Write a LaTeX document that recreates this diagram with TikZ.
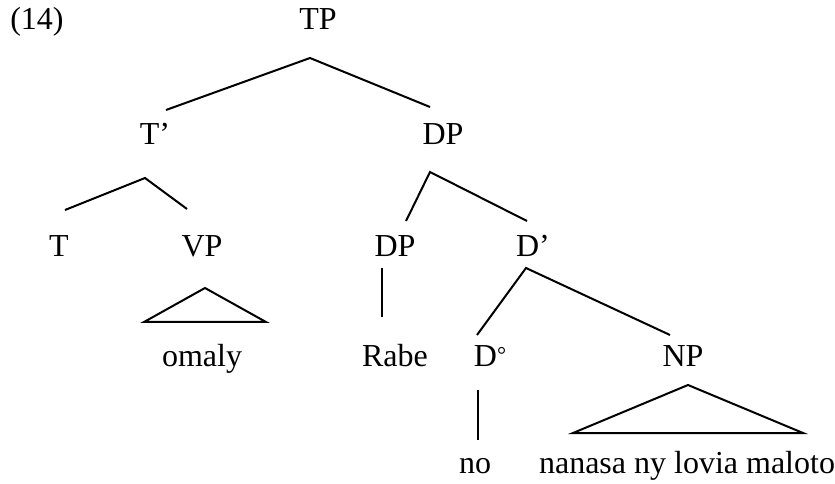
\documentclass[tikz,border=0pt]{standalone}
\usepackage{fontspec}
\setmainfont{Liberation Serif}
\usepackage{tikz}

\tikzset
  {
    lbl/.style=    {anchor=base, inner sep=0pt, font=\fontsize{24}{28}\selectfont},
    branch/.style= {black, line width=1.5pt, line join=miter}
  }

\begin{document}
\begin{tikzpicture}[x=0.75pt, y=-0.75pt]

\useasboundingbox (0,0) rectangle (835,484);

% labels
\node[lbl] (ex) at (37,30) {(14)};
\node[lbl] (TP) at (318,30) {TP};

\node[lbl] (Tbar) at (155,145) {T’};
\node[lbl] (DPa) at (443,145) {DP};

\node[lbl] (T) at (59,257) {T};
\node[lbl] (VP) at (202,257) {VP};
\node[lbl] (DPb) at (395,257) {DP};
\node[lbl] (Dbar) at (533,257) {D’};

\node[lbl] (omaly) at (202,367) {omaly};
\node[lbl] (Rabe) at (395,367) {Rabe};
\node[lbl] (Dzero) at (490,367) {D\raisebox{3pt}{\fontsize{17}{17}\selectfont°}};
\node[lbl] (NP) at (683,367) {NP};

\node[lbl] (no) at (475,473) {no};
\node[lbl] (nanasa) at (687,473) {nanasa ny lovia maloto};


% branches
\draw[branch] ([shift={(11,-35)}]Tbar.base)--([shift={(-8,28)}]TP.base)--([shift={(-13,-38)}]DPa.base);

\draw[branch] ([shift={(6,-47)}]T.base)--([shift={(-10,33)}]Tbar.base)--([shift={(-15,-48)}]VP.base);

\draw[branch] ([shift={(11,-36)}]DPb.base)--([shift={(-13,27)}]DPa.base)--([shift={(-6,-36)}]Dbar.base);

\draw[branch] ([shift={(-13,-32)}]Dzero.base)--([shift={(-7,11)}]Dbar.base)--([shift={(-13,-32)}]NP.base);

\draw[branch] ([shift={(-13,11)}]DPb.base)--([shift={(-13,-50)}]Rabe.base);

\draw[branch] ([shift={(-12,23)}]Dzero.base)--([shift={(3,-33)}]no.base);


% triangles
\draw[branch] ([shift={(3,31)}]VP.base)--([shift={(64,-45)}]omaly.base)--([shift={(-58,-45)}]omaly.base)--cycle;

\draw[branch] ([shift={(5,18)}]NP.base)--([shift={(116,-40)}]nanasa.base)--([shift={(-114,-40)}]nanasa.base)--cycle;

\end{tikzpicture}
\end{document}
